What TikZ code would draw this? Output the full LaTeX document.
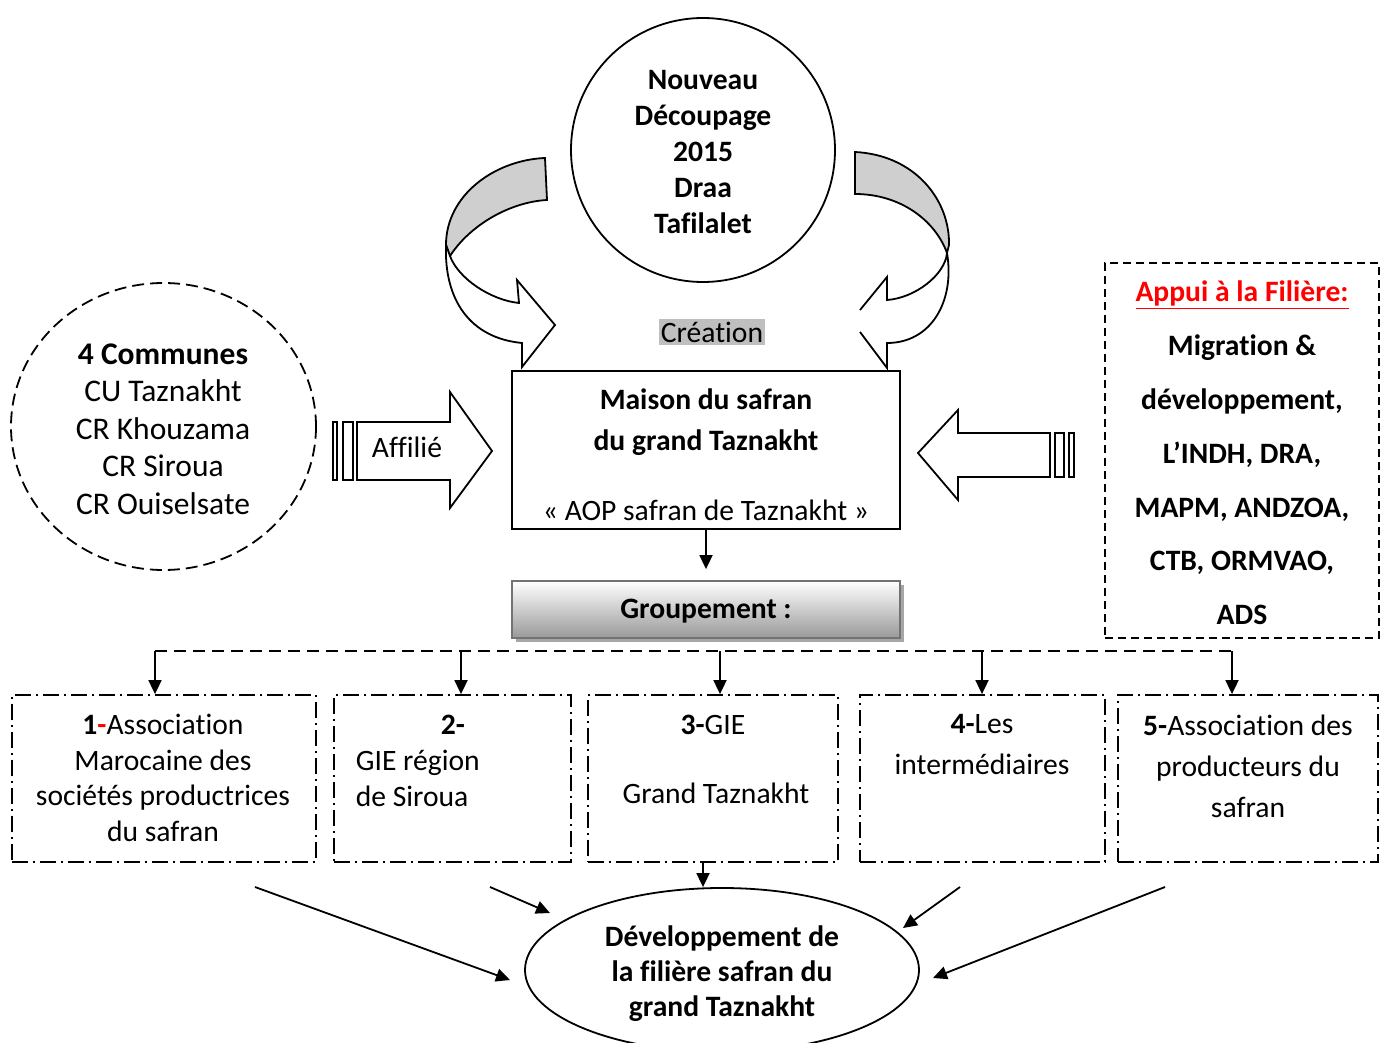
\documentclass[tikz,border=0pt]{standalone}
\usepackage{fontspec}
\setmainfont{Carlito}[Ligatures={TeX,NoCommon}]
\usetikzlibrary{arrows.meta,shapes.geometric,calc}
\begin{document}
\begin{tikzpicture}[x=1pt,y=-1pt,line width=1.8pt,
  font=\fontsize{29.6}{36}\selectfont,
  tip/.style={-{Triangle[length=14pt,width=13pt]}},
  txt/.style={inner sep=0pt,align=center},
  ddbox/.style={draw,rectangle,inner sep=0pt,minimum height=167pt,dash pattern=on 16pt off 5pt on 2pt off 5pt},
  shade/.style={fill=black!19,draw=black},
  band/.style={fill=white,draw=black}]
\useasboundingbox (0,0) rectangle (1385,1043);

% ---------- top circle ----------
\node[draw,circle,minimum size=264pt,inner sep=0pt] (circ) at (703,150) {};
\node[txt,font=\bfseries\fontsize{29.6}{36}\selectfont] (circt) at (703,152) {Nouveau\\Découpage\\2015\\Draa\\Tafilalet};

% ---------- curved arrows ----------
% left
\draw[shade] (545,158) -- (547,200) .. controls (510,202) and (470,225) .. (450,256)
  -- (446,245) .. controls (446,195) and (495,160) .. (545,158) -- cycle;
\draw[band] (450,256) .. controls (458,278) and (490,300) .. (519,303) -- (517,280) -- (555,325)
  -- (522,367) -- (522,343) .. controls (470,338) and (444,300) .. (446,245) -- cycle;
% right
\draw[shade] (855,152) -- (855,194) .. controls (900,194) and (935,220) .. (947,253)
  -- (949,245) .. controls (950,200) and (915,155) .. (855,152) -- cycle;
\draw[band] (860,310) -- (887,277) -- (887,300) .. controls (915,298) and (945,275) .. (947,253)
  .. controls (955,300) and (932,343) .. (887,343) -- (887,368) -- (860,332);

\node[txt,fill=black!25,inner xsep=2pt,inner ysep=3pt] (crea) at (712,332) {Création};

% ---------- main box ----------
\node[draw,rectangle,minimum width=388pt,minimum height=158pt,inner sep=0pt] (main) at (706,450) {};
\node[txt,font=\bfseries\fontsize{29.6}{41}\selectfont] (maint) at (706,422) {Maison du safran\\du grand Taznakht};
\node[txt] (aop) at (706,510) {« AOP safran de Taznakht »};

% ---------- groupement ----------
\fill[black!35] (516,585) rectangle (904,642);
\node[rectangle,minimum width=388pt,minimum height=57pt,inner sep=0pt,
  top color=white,bottom color=black!40,draw=black!55] (grp) at (706,609.5) {};
\node[txt,font=\bfseries\fontsize{29.6}{36}\selectfont] (grpt) at (706,611) {Groupement :};

\draw[tip] (main.south) -- ($(grp.north)+(0,-11)$);

% ---------- left communes ----------
\node[draw,ellipse,minimum width=305pt,minimum height=287pt,inner sep=0pt,
  dash pattern=on 12pt off 6pt] (comm) at (163.5,426.5) {};
\node[txt,font=\fontsize{31.5}{37.5}\selectfont] (commt) at (163,429) {\textbf{4 Communes}\\CU Taznakht\\CR Khouzama\\CR Siroua\\CR Ouiselsate};

% Affilié block arrow
\draw (333,422) rectangle (337,480);
\draw (343,422) rectangle (353,480);
\draw (357,422) -- (450,422) -- (450,392) -- (492,451) -- (450,508) -- (450,480) -- (357,480) -- cycle;
\node[txt] (aff) at (407,447) {Affilié};

% ---------- right support box ----------
\node[draw,rectangle,minimum width=274pt,minimum height=375pt,inner sep=0pt,
  dash pattern=on 8pt off 5pt] (appui) at (1242,450.5) {};
\node[txt,font=\bfseries\fontsize{29.6}{53.8}\selectfont] (appuit) at (1242,453) {\textcolor{red}{\underline{Appui à la Filière:}}\\Migration \&\\développement,\\L’INDH, DRA,\\MAPM, ANDZOA,\\CTB, ORMVAO,\\ADS};

\draw (1050,433) -- (958,433) -- (958,410) -- (918,453) -- (958,500) -- (958,477) -- (1050,477) -- cycle;
\draw (1055,433) rectangle (1064,477);
\draw (1069,433) rectangle (1074,477);

% ---------- bottom boxes ----------
\node[ddbox,minimum width=304pt] (b1) at (164,778.5) {};
\node[ddbox,minimum width=237pt] (b2) at (452.5,778.5) {};
\node[ddbox,minimum width=250pt] (b3) at (713,778.5) {};
\node[ddbox,minimum width=245pt] (b4) at (982.5,778.5) {};
\node[ddbox,minimum width=260pt] (b5) at (1248,778.5) {};

\node[txt,font=\fontsize{29.6}{35.5}\selectfont] (b1t) at (163,778) {\textbf{1}\textcolor{red}{\textbf{-}}Association\\Marocaine des\\sociétés productrices\\du safran};
\node[txt,font=\bfseries\fontsize{29.6}{36}\selectfont] (b2a) at (453,725) {2-};
\node[txt,anchor=west,align=left] (b2t) at (355,778) {GIE région\\de Siroua};
\node[txt] (b3a) at (713,725) {\textbf{3-}GIE};
\node[txt] (b3t) at (716,793) {Grand Taznakht};
\node[txt,font=\fontsize{29.6}{41}\selectfont] (b4t) at (982,745) {\textbf{4-}Les\\intermédiaires};
\node[txt,font=\fontsize{29.6}{41}\selectfont] (b5t) at (1248,766) {\textbf{5-}Association des\\producteurs du\\safran};

% dashed bus
\coordinate (bus1) at (155,651);
\coordinate (bus2) at (461,651);
\coordinate (bus3) at (720,651);
\coordinate (bus4) at (982,651);
\coordinate (bus5) at (1232,651);
\draw[dash pattern=on 12pt off 7pt] (bus1) -- (bus5);
\draw[tip] (bus1) -- (bus1 |- b1.north);
\draw[tip] (bus2) -- (bus2 |- b2.north);
\draw[tip] (bus3) -- (bus3 |- b3.north);
\draw[tip] (bus4) -- (bus4 |- b4.north);
\draw[tip] (bus5) -- (bus5 |- b5.north);

% ---------- development ellipse ----------
\node[draw,ellipse,minimum width=394pt,minimum height=164pt,inner sep=0pt] (dev) at (722,970) {};
\node[txt,font=\bfseries\fontsize{29.6}{35}\selectfont] (devt) at (722,974) {Développement de\\la filière safran du\\grand Taznakht};

\coordinate (b3s) at (703,862);
\draw[tip] (b3s) -- (b3s |- dev.north);
\coordinate (a1s) at (255,887); \coordinate (a1e) at (510,980);
\coordinate (a2s) at (490,887); \coordinate (a2e) at (550,913);
\coordinate (a4s) at (960,887); \coordinate (a4e) at (903,928);
\coordinate (a5s) at (1165,887); \coordinate (a5e) at (933,978);
\draw[tip] (a1s) -- (a1e);
\draw[tip] (a2s) -- (a2e);
\draw[tip] (a4s) -- (a4e);
\draw[tip] (a5s) -- (a5e);
\end{tikzpicture}
\end{document}
